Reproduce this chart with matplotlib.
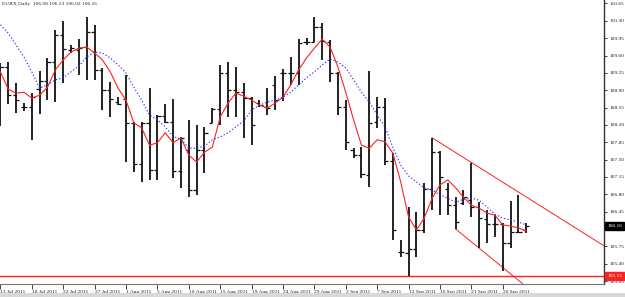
import matplotlib
matplotlib.use("Agg")
import matplotlib.pyplot as plt
import matplotlib.transforms as mtransforms

title = "EURX,Daily  106.08 106.23 106.02 106.16"

opens = [108.90, 109.37, 108.80, 108.56, 108.56, 108.92, 109.09, 109.47, 110.01, 109.71,
         109.71, 109.77, 110.07, 109.31, 108.90, 108.66, 108.72, 108.24, 107.41, 108.24,
         107.29, 108.38, 108.26, 107.27, 107.69, 106.89, 107.69, 108.24, 108.52, 109.25,
         108.90, 108.86, 108.74, 108.64, 108.56, 109.01, 109.25, 109.25, 109.25, 109.87,
         109.87, 110.18, 109.87, 109.25, 108.56, 107.69, 107.59, 107.19, 108.26, 108.56,
         107.47, 105.63, 105.61, 105.70, 106.08, 106.91, 107.65, 106.91, 106.58, 106.62,
         106.68, 106.54, 106.30, 106.20, 106.20, 105.82, 106.04, 106.08]
highs = [109.45, 109.47, 109.05, 108.64, 108.84, 109.29, 109.55, 110.12, 110.30, 109.81,
         109.93, 110.38, 110.22, 109.35, 109.07, 108.76, 109.21, 108.26, 108.26, 108.94,
         108.40, 108.62, 108.72, 107.96, 108.30, 108.20, 108.16, 108.54, 109.41, 109.47,
         109.37, 109.05, 108.76, 108.70, 108.94, 109.19, 109.33, 109.57, 109.93, 109.95,
         110.38, 110.26, 109.91, 109.27, 108.70, 107.73, 107.75, 109.29, 108.76, 108.74,
         107.63, 105.88, 106.54, 106.44, 107.03, 107.94, 107.67, 107.03, 106.74, 106.89,
         107.43, 106.64, 106.48, 106.38, 106.22, 106.66, 106.79, 106.23]
lows = [108.18, 108.62, 108.44, 108.48, 107.90, 108.42, 108.70, 108.66, 109.05, 109.65,
        109.21, 109.11, 109.11, 108.50, 108.36, 108.60, 107.45, 107.25, 107.05, 107.09,
        107.09, 108.24, 107.13, 106.93, 106.74, 106.79, 107.23, 108.24, 108.20, 108.36,
        108.36, 107.94, 107.79, 108.56, 108.40, 108.50, 108.68, 109.01, 109.01, 109.81,
        109.87, 109.51, 109.07, 108.40, 107.69, 107.53, 107.13, 106.95, 108.14, 107.39,
        105.88, 105.53, 105.15, 105.53, 106.02, 106.48, 106.38, 106.38, 106.10, 106.58,
        106.34, 105.72, 105.82, 105.94, 105.25, 105.72, 106.02, 106.02]
closes = [109.37, 108.80, 108.70, 108.56, 108.76, 109.09, 109.47, 110.01, 109.73, 109.75,
          109.75, 110.07, 109.31, 108.90, 108.72, 108.62, 108.24, 107.41, 108.24, 107.29,
          108.38, 108.26, 107.27, 107.94, 106.89, 107.69, 108.04, 108.52, 109.25, 108.90,
          108.86, 108.74, 108.20, 108.60, 108.54, 108.70, 109.25, 109.25, 109.85, 109.87,
          110.18, 109.89, 109.25, 108.56, 107.86, 107.59, 107.21, 108.24, 108.56, 107.47,
          106.08, 105.63, 105.70, 106.08, 106.91, 107.65, 107.15, 106.58, 106.24, 106.74,
          106.54, 106.32, 106.20, 106.20, 105.82, 106.04, 106.04, 106.16]

ma_fast = [109.27, 108.92, 108.84, 108.86, 108.74, 108.80, 108.96, 109.31, 109.51, 109.67,
           109.75, 109.77, 109.65, 109.51, 109.27, 108.94, 108.70, 108.24, 108.14, 107.79,
           107.84, 108.04, 107.84, 107.94, 107.59, 107.45, 107.65, 107.75, 108.36, 108.64,
           108.84, 108.78, 108.70, 108.60, 108.54, 108.64, 108.76, 109.01, 109.31, 109.55,
           109.75, 109.93, 109.77, 109.37, 108.86, 108.30, 107.79, 107.73, 107.90, 107.86,
           107.63, 107.05, 106.34, 106.08, 106.32, 106.72, 106.99, 107.09, 106.93, 106.74,
           106.58, 106.52, 106.42, 106.38, 106.18, 106.16, 106.12, 106.06]
ma_slow = [110.22, 110.05, 109.81, 109.57, 109.27, 108.94, 109.01, 109.11, 109.15, 109.27,
           109.39, 109.57, 109.67, 109.65, 109.55, 109.41, 109.25, 108.96, 108.70, 108.40,
           108.30, 108.16, 107.96, 107.92, 107.73, 107.73, 107.77, 107.90, 107.96, 108.04,
           108.16, 108.28, 108.50, 108.60, 108.66, 108.70, 108.76, 108.86, 109.01, 109.15,
           109.27, 109.41, 109.53, 109.47, 109.35, 109.11, 108.86, 108.66, 108.40, 108.16,
           107.75, 107.39, 107.17, 107.05, 106.93, 106.89, 106.79, 106.72, 106.64, 106.70,
           106.72, 106.68, 106.54, 106.40, 106.32, 106.28, 106.24, 106.18]

upper_line_x = [55, 77]
upper_line_y = [107.94, 105.75]
lower_line_x = [58, 66.5]
lower_line_y = [106.10, 105.00]

support_level = 105.15
last_price = 106.16

ytick_values = [110.65, 110.30, 109.95, 109.60, 109.25, 108.90, 108.55, 108.20, 107.85,
                107.50, 107.15, 106.80, 106.45, 105.75, 105.40, 105.05]
date_labels = ["13 Jul 2011", "18 Jul 2011", "22 Jul 2011", "27 Jul 2011", "1 Aug 2011",
               "5 Aug 2011", "10 Aug 2011", "15 Aug 2011", "19 Aug 2011", "24 Aug 2011",
               "29 Aug 2011", "2 Sep 2011", "7 Sep 2011", "12 Sep 2011", "16 Sep 2011",
               "21 Sep 2011", "26 Sep 2011"]
date_positions = list(range(0, 68, 4))

FONT = "Liberation Serif"
FS = 3.9

fig = plt.figure(figsize=(6.25, 2.97), dpi=100)
ax = fig.add_axes([0.0, 13 / 297, 604 / 625, 284 / 297])
ax.set_xlim(-0.05, 76.9)
ax.set_ylim(104.99, 110.72)

idx = list(range(len(opens)))
tick = 0.4
ax.vlines(idx, lows, highs, colors="#111111", linewidth=1.3, zorder=3)
ax.hlines(opens, [i - tick for i in idx], idx, colors="#111111", linewidth=0.9, zorder=3)
ax.hlines(closes, idx, [i + tick for i in idx], colors="#111111", linewidth=0.9, zorder=3)

ax.plot(idx, ma_fast, color="#ff2020", linewidth=0.8, zorder=4)
ax.plot(idx, ma_slow, color="#3030ff", linewidth=0.8, linestyle=(0, (1.2, 1.8)), zorder=4)

ax.plot(upper_line_x, upper_line_y, color="#ff2020", linewidth=0.7, zorder=2)
ax.plot(lower_line_x, lower_line_y, color="#ff2020", linewidth=0.7, zorder=2)
ax.axhline(support_level, color="#ff2020", linewidth=1.0, zorder=2)

for s in ["top", "left"]:
    ax.spines[s].set_visible(False)
ax.spines["right"].set_color("#333333")
ax.spines["right"].set_linewidth(1.0)
ax.spines["bottom"].set_color("#777777")
ax.spines["bottom"].set_linewidth(0.8)

ax.yaxis.tick_right()
ax.set_yticks(ytick_values, [f"{v:.2f}" for v in ytick_values])
ax.tick_params(axis="y", direction="out", length=2.5, width=0.6, pad=1.5,
               labelsize=FS, colors="#222222")
ax.set_xticks(date_positions, date_labels)
ax.tick_params(axis="x", direction="out", length=3.5, width=0.6, pad=1.0,
               labelsize=FS, colors="#222222")
for lab in ax.get_xticklabels() + ax.get_yticklabels():
    lab.set_fontfamily(FONT)
for lab in ax.get_xticklabels():
    lab.set_horizontalalignment("left")

trans = mtransforms.blended_transform_factory(ax.transAxes, ax.transData)
ax.text(1.005, last_price, f"{last_price:.2f}", transform=trans, fontsize=FS,
        family=FONT, color="white", va="center", ha="left",
        bbox=dict(boxstyle="square,pad=0.3", fc="black", ec="black"), clip_on=False)
ax.text(1.005, support_level, f"{support_level:.2f}", transform=trans, fontsize=FS,
        family=FONT, color="white", va="center", ha="left",
        bbox=dict(boxstyle="square,pad=0.3", fc="#ff2020", ec="#ff2020"), clip_on=False)

ax.text(0.004, 0.993, title, transform=ax.transAxes, fontsize=FS, family=FONT,
        color="#222222", va="top", ha="left")

fig.patches.append(plt.Rectangle((0, 0), 1, 4 / 297, transform=fig.transFigure,
                                 fc="#d8d8d8", ec="none"))

fig.savefig("out.png", dpi=100)
